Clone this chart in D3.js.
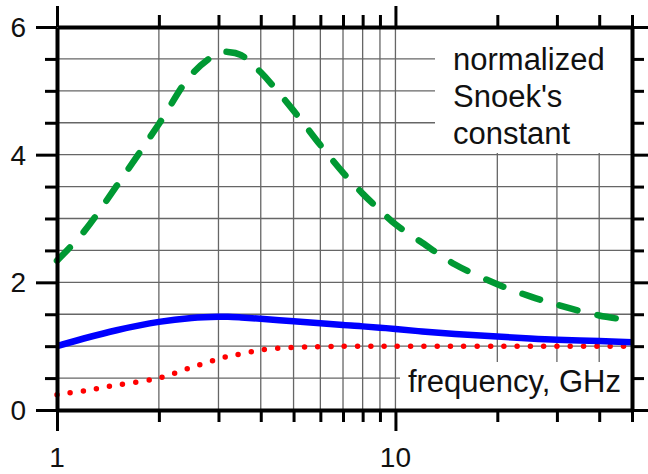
<!DOCTYPE html>
<meta charset="utf-8">
<style>
body { margin: 0; background: white; }
text { font-family: "Liberation Sans", Arial, sans-serif; fill: #111; }
.grid line { stroke: #666; stroke-width: 1.3px; }
</style>
<body>
<script src="https://d3js.org/d3.v7.min.js"></script>
<script>

const width = 648
const height = 474

// frequency, GHz
const freq = [1, 1.2, 1.5, 2, 2.5, 3, 3.2, 3.5, 4, 5, 6, 7, 8, 9, 10, 12, 15, 20, 25, 30, 40, 50]
// dashed green
const snoekGreen = [2.34, 2.79, 3.51, 4.48, 5.26, 5.59, 5.61, 5.56, 5.29, 4.69, 4.15, 3.72, 3.39, 3.13, 2.91, 2.62, 2.28, 1.97, 1.78, 1.65, 1.48, 1.40]
// solid blue
const snoekBlue = [1.0, 1.12, 1.25, 1.38, 1.44, 1.46, 1.46, 1.45, 1.43, 1.39, 1.36, 1.33, 1.31, 1.29, 1.27, 1.23, 1.19, 1.15, 1.12, 1.10, 1.08, 1.06]
// dotted red
const snoekRed = [0.24, 0.30, 0.39, 0.50, 0.67, 0.80, 0.84, 0.88, 0.94, 0.98, 0.99, 1.0, 1.0, 1.0, 1.0, 1.0, 1.0, 1.0, 1.0, 1.0, 1.0, 1.0]

const xMajor = [1, 10]
const xMinor = [2, 3, 4, 5, 6, 7, 8, 9, 20, 30, 40, 50]
const xGrid = [2, 3, 4, 5, 6, 7, 8, 9, 10, 20, 30, 40]
const yMajor = [0, 2, 4, 6]
const yMinor = [0.5, 1, 1.5, 2.5, 3, 3.5, 4.5, 5, 5.5]
const yGrid = [0.5, 1, 1.5, 2, 2.5, 3, 3.5, 4, 4.5, 5, 5.5]

const x = d3.scaleLog().domain([1, 50]).range([57, 632])
const y = d3.scaleLinear().domain([0, 6]).range([410, 27])

const svg = d3.select("body").append("svg")
  .attr("width", width)
  .attr("height", height)

// grid
const grid = svg.append("g").attr("class", "grid")
grid.selectAll(".gx").data(xGrid).enter().append("line")
  .attr("x1", d => x(d)).attr("x2", d => x(d))
  .attr("y1", y(0)).attr("y2", y(6))
grid.selectAll(".gy").data(yGrid).enter().append("line")
  .attr("x1", x(1)).attr("x2", x(50))
  .attr("y1", d => y(d)).attr("y2", d => y(d))

// white boxes behind the labels
svg.append("rect").attr("x", 435).attr("y", y(6)).attr("width", x(50) - 435).attr("height", 126).attr("fill", "white")
svg.append("rect").attr("x", 400).attr("y", 362).attr("width", x(50) - 400).attr("height", y(0) - 362).attr("fill", "white")

// curves
const line = vals => d3.line()
  .x((d, i) => x(freq[i]))
  .y(d => y(d))
  .curve(d3.curveCatmullRom.alpha(0.5))(vals)

svg.append("path").attr("d", line(snoekRed))
  .attr("fill", "none").attr("stroke", "#ff0000").attr("stroke-width", 5.5)
  .attr("stroke-linecap", "round").attr("stroke-dasharray", "0 13.3")
svg.append("path").attr("d", line(snoekBlue))
  .attr("fill", "none").attr("stroke", "#0000ff").attr("stroke-width", 6.5)
svg.append("path").attr("d", line(snoekGreen))
  .attr("fill", "none").attr("stroke", "#009933").attr("stroke-width", 6.5)
  .attr("stroke-linecap", "round").attr("stroke-dasharray", "18.5 20.5")

// axes: major and minor ticks on all four sides
function drawAxis(axisFn, scale, major, minor, transform) {
  const g1 = svg.append("g").attr("transform", transform)
    .call(axisFn(scale).tickValues(major).tickSize(21).tickSizeOuter(0).tickFormat(""))
  const g2 = svg.append("g").attr("transform", transform)
    .call(axisFn(scale).tickValues(minor).tickSize(12).tickSizeOuter(0).tickFormat(""))
  g2.select(".domain").remove()
  ;[g1, g2].forEach(g => {
    g.selectAll(".tick line").attr("stroke", "#000").attr("stroke-width", 3)
    g.select(".domain").attr("stroke", "#000").attr("stroke-width", 4)
  })
}
drawAxis(d3.axisBottom, x, xMajor, xMinor, `translate(0,${y(0)})`)
drawAxis(d3.axisTop, x, xMajor, xMinor, `translate(0,${y(6)})`)
drawAxis(d3.axisLeft, y, yMajor, yMinor, `translate(${x(1)},0)`)
drawAxis(d3.axisRight, y, yMajor, yMinor, `translate(${x(50)},0)`)

// tick labels
svg.selectAll(".xl").data(xMajor).enter().append("text")
  .attr("x", d => x(d)).attr("y", 467)
  .attr("text-anchor", "middle").attr("font-size", 28)
  .text(d => d)
svg.selectAll(".yl").data(yMajor).enter().append("text")
  .attr("x", 26).attr("y", d => y(d) + 10)
  .attr("text-anchor", "end").attr("font-size", 28)
  .text(d => d)

// annotations
const note = ["normalized", "Snoek's", "constant"]
svg.selectAll(".note").data(note).enter().append("text")
  .attr("x", 453).attr("y", (d, i) => 70 + i * 37)
  .attr("font-size", 31)
  .text(d => d)
svg.append("text").attr("x", 621).attr("y", 392)
  .attr("text-anchor", "end").attr("font-size", 31)
  .text("frequency, GHz")

</script>
</body>
</html>
